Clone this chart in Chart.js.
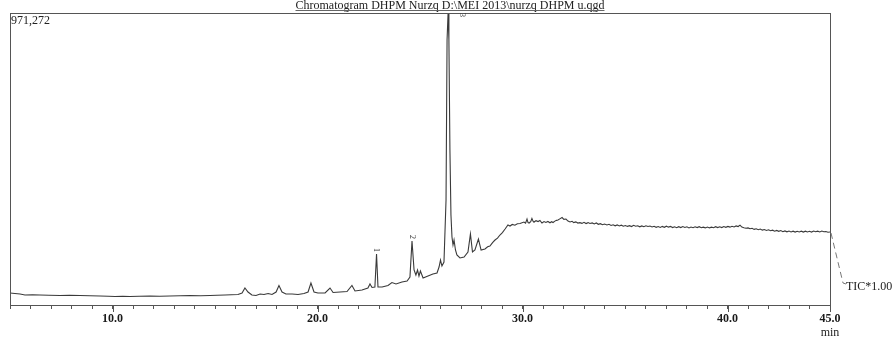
<html>
<head>
<meta charset="utf-8">
<title>Chromatogram DHPM Nurzq</title>
<style>
  body { margin: 0; background: #fff; }
  canvas { display: block; }
</style>
</head>
<body>
<canvas id="tic" width="893" height="341"></canvas>
<script src="https://cdn.jsdelivr.net/npm/chart.js@4.4.0/dist/chart.umd.min.js"></script>
<script>
// TIC trace: retention time (min) and intensity (counts)
var retentionTime = [
  5.00, 5.24, 5.49, 5.73, 6.10, 6.46, 6.90, 7.44, 7.90, 8.41, 8.90, 9.39, 9.80,
  10.12, 10.50, 10.85, 11.30, 11.83, 12.30, 12.80, 13.30, 13.78, 14.30, 14.76,
  15.10, 15.49, 15.80, 16.12, 16.32, 16.46, 16.61, 16.80, 17.00, 17.20, 17.39,
  17.59, 17.78, 17.98, 18.12, 18.27, 18.46, 18.76, 19.05, 19.34, 19.54, 19.68,
  19.83, 20.02, 20.37, 20.61, 20.76, 21.10, 21.44, 21.68, 21.83, 22.17, 22.46,
  22.56, 22.66, 22.80, 22.88, 22.95, 23.15, 23.44, 23.63, 23.83, 24.12, 24.37,
  24.51, 24.61, 24.71, 24.80, 24.88, 24.95, 25.02, 25.15, 25.39, 25.63, 25.83,
  25.93, 26.00, 26.07, 26.17, 26.27, 26.32, 26.37, 26.41, 26.46, 26.51, 26.56,
  26.61, 26.66, 26.73, 26.80, 26.95, 27.15, 27.34, 27.46, 27.56, 27.68, 27.85,
  27.98, 28.17, 28.30, 28.41, 28.55, 28.66, 28.78, 28.90, 29.02, 29.15, 29.29, 29.39, 29.50, 29.63, 29.75, 29.88,
  30.07, 30.15, 30.22, 30.27, 30.32, 30.40, 30.46, 30.52, 30.56, 30.66, 30.76, 30.85,
  30.95, 31.05, 31.14, 31.24, 31.34, 31.42, 31.49, 31.58, 31.66, 31.73, 31.82, 31.93,
  32.02, 32.12, 32.22, 32.32, 32.42, 32.50, 32.60, 32.70, 32.80, 32.90, 33.00, 33.10,
  33.20, 33.29, 33.40, 33.50, 33.60, 33.70, 33.80, 33.90, 34.00, 34.12, 34.22, 34.32,
  34.42, 34.52, 34.62, 34.72, 34.82, 34.92, 35.02, 35.12, 35.22, 35.32, 35.42, 35.52,
  35.62, 35.72, 35.82, 35.92, 36.02, 36.12, 36.22, 36.32, 36.42, 36.52, 36.62, 36.72,
  36.82, 36.92, 37.02, 37.12, 37.22, 37.32, 37.42, 37.52, 37.62, 37.72, 37.82, 37.92,
  38.02, 38.12, 38.22, 38.32, 38.42, 38.52, 38.62, 38.72, 38.82, 38.92, 39.02, 39.12,
  39.22, 39.32, 39.42, 39.52, 39.62, 39.72, 39.82, 39.92, 40.02, 40.12, 40.22, 40.32,
  40.42, 40.52, 40.61, 40.70, 40.80, 40.90, 41.00, 41.10, 41.20, 41.30, 41.40, 41.50,
  41.60, 41.70, 41.80, 41.90, 42.00, 42.10, 42.20, 42.30, 42.40, 42.50, 42.60, 42.70,
  42.80, 42.90, 43.00, 43.10, 43.20, 43.30, 43.40, 43.50, 43.60, 43.70, 43.80, 43.90,
  44.00, 44.10, 44.20, 44.30, 44.40, 44.50, 44.60, 44.70, 44.80, 44.90, 45.00
];
var intensity = [
  39900, 38250, 36590, 33260, 34100, 33260, 32400, 31600, 32200, 31600, 30800, 29930, 29100,
  28270, 28900, 28270, 29000, 29930, 29300, 29930, 30600, 31600, 30900, 31600,
  32500, 33260, 33900, 34920, 39900, 56540, 43240, 33260, 31600, 36590, 34920,
  38250, 34920, 43240, 64860, 43240, 36590, 36590, 34920, 38250, 43240, 73170,
  43240, 39900, 39900, 56540, 41580, 43240, 44900, 64860, 46560, 49890, 56540,
  69850, 58200, 59870, 169630, 59870, 59870, 64860, 74840, 69850, 76500, 79820,
  93130, 212860, 116410, 99780, 116410, 96450, 113080, 89800, 96450, 103110, 106430,
  126390, 149670, 129710, 143020, 349230, 881390, 971272, 881390, 515530, 299340, 226170,
  199560, 216190, 182930, 166300, 156320, 159650, 176280, 236150, 176280, 182930, 219520,
  182930, 186260, 193500, 196230, 208000, 216190, 222500, 232820, 241000, 252780, 266080, 262750, 268000, 265500, 270500, 271070,
  276060, 272000, 286040, 274000, 272730, 277000, 287700, 278000, 276060, 280500, 277500, 281000,
  272730, 277500, 274500, 278000, 273500, 277000, 274400, 279000, 281500, 282710, 286500, 291030,
  285000, 286040, 279000, 276060, 278500, 274000, 276500, 272500, 274000, 271500, 275000, 271000,
  274000, 271070, 272900, 269500, 273000, 268500, 270500, 267000, 269500, 266000, 268500, 264500,
  267000, 263500, 266500, 263000, 265500, 262000, 264500, 261500, 264000, 261000, 265000, 262000,
  263500, 260000, 263000, 260500, 263500, 261000, 262750, 259500, 262000, 258500, 261000, 258000,
  261500, 258500, 262000, 259000, 261500, 257500, 260000, 257000, 260500, 257500, 261000, 258000,
  260000, 256500, 259500, 257000, 260000, 257500, 260500, 257000, 259000, 256500, 259500, 256500,
  259000, 257000, 260500, 257500, 260000, 257500, 261000, 258500, 261500, 259000, 262000, 259500,
  263000, 261000, 265500, 259000, 257000, 255500, 256500, 253500, 255000, 251500, 253500, 250500,
  252500, 249000, 251000, 248000, 250000, 247000, 249000, 245500, 248000, 245000, 247500, 244000,
  246500, 243500, 246000, 243000, 245500, 242500, 245000, 243000, 245500, 242500, 245500, 243000,
  245000, 242500, 246000, 243500, 245500, 243000, 246000, 243500, 244500, 242000, 242800
];

// numbered peaks
var peakTimes = [22.88, 24.61, 26.37];
var peakTags = ['1', '2', '3'];

var maxIntensity = 971272;
var timeStart = 5;
var timeEnd = 45;
var labelledTimes = [10, 20, 30, 40, 45];
var timeUnit = 'min';

var titleText = 'Chromatogram DHPM Nurzq D:\\MEI 2013\\nurzq DHPM u.qgd';
var traceName = 'TIC*1.00';

var serif = '"Liberation Serif", "DejaVu Serif", serif';

var points = retentionTime.map(function (t, i) {
  return { x: t, y: intensity[i] };
});

// frame, header texts, peak numbers and the trace name
var decorations = {
  id: 'decorations',
  afterDraw: function (chart) {
    var ctx = chart.ctx;
    var area = chart.chartArea;
    var xs = chart.scales.x;
    var ys = chart.scales.y;
    ctx.save();

    // frame round the plot
    ctx.strokeStyle = '#555';
    ctx.lineWidth = 1;
    ctx.strokeRect(Math.round(area.left) + 0.5, Math.round(area.top) + 0.5,
      Math.round(area.right - area.left), Math.round(area.bottom - area.top));

    // longer marks under the labelled times
    ctx.beginPath();
    labelledTimes.forEach(function (t) {
      var px = Math.round(xs.getPixelForValue(t)) + 0.5;
      ctx.moveTo(px, area.bottom);
      ctx.lineTo(px, area.bottom + 7);
    });
    ctx.stroke();

    // unit under the last time label
    ctx.fillStyle = '#222';
    ctx.font = '12px ' + serif;
    ctx.textAlign = 'center';
    ctx.textBaseline = 'middle';
    ctx.fillText(timeUnit, xs.getPixelForValue(timeEnd), area.bottom + 28);

    // title
    ctx.textBaseline = 'alphabetic';
    var cx = 450;
    ctx.fillText(titleText, cx, 9);
    var w = ctx.measureText(titleText).width;
    ctx.beginPath();
    ctx.moveTo(cx - w / 2, 10.5);
    ctx.lineTo(cx + w / 2, 10.5);
    ctx.strokeStyle = '#666';
    ctx.stroke();

    // full-scale intensity
    ctx.textAlign = 'left';
    ctx.fillText(maxIntensity.toLocaleString('en-US'), area.left + 1, area.top + 11);

    // peak numbers, written sideways
    ctx.font = '8px ' + serif;
    peakTimes.forEach(function (t, i) {
      var k = retentionTime.indexOf(t);
      var x = xs.getPixelForValue(t);
      var y = ys.getPixelForValue(intensity[k]) - 4;
      if (y < area.top + 4) {
        y = area.top + 2;
        x += 14;
      }
      ctx.save();
      ctx.translate(x, y);
      ctx.rotate(Math.PI / 2);
      ctx.textAlign = 'center';
      ctx.textBaseline = 'middle';
      ctx.fillStyle = '#333';
      ctx.fillText(peakTags[i], 0, 0);
      ctx.restore();
    });

    // dashed lead from the end of the trace to its name
    var last = intensity.length - 1;
    var ex = xs.getPixelForValue(retentionTime[last]);
    var ey = ys.getPixelForValue(intensity[last]);
    ctx.beginPath();
    ctx.setLineDash([6, 4]);
    ctx.strokeStyle = '#777';
    ctx.moveTo(ex + 1, ey + 1);
    ctx.lineTo(ex + 13, ey + 51);
    ctx.lineTo(ex + 16, ey + 52);
    ctx.stroke();
    ctx.setLineDash([]);

    ctx.font = '12px ' + serif;
    ctx.textAlign = 'left';
    ctx.textBaseline = 'middle';
    ctx.fillStyle = '#222';
    ctx.fillText(traceName, ex + 16, ey + 55);

    ctx.restore();
  }
};

var chart = new Chart(document.getElementById('tic').getContext('2d'), {
  type: 'line',
  data: {
    datasets: [{
      label: traceName,
      data: points,
      borderColor: '#3a3a3a',
      borderWidth: 1.1,
      pointRadius: 0,
      tension: 0,
      fill: false
    }]
  },
  options: {
    responsive: false,
    animation: false,
    events: [],
    layout: { padding: { left: 10, right: 63, top: 13, bottom: 0 } },
    plugins: {
      legend: { display: false },
      tooltip: { enabled: false },
      title: { display: false }
    },
    scales: {
      x: {
        type: 'linear',
        min: timeStart,
        max: timeEnd,
        afterFit: function (scale) { scale.height = 36; },
        grid: {
          drawOnChartArea: false,
          drawTicks: true,
          tickLength: 4,
          tickColor: '#555'
        },
        border: { display: true, color: '#555', width: 1 },
        ticks: {
          stepSize: 1,
          autoSkip: false,
          maxRotation: 0,
          padding: 3,
          color: '#1a1a1a',
          font: { family: serif, size: 12, weight: 'bold', lineHeight: 14 / 12 },
          callback: function (value) {
            if (labelledTimes.indexOf(value) >= 0) return value.toFixed(1);
            return '';
          }
        }
      },
      y: {
        display: false,
        min: 0,
        max: maxIntensity
      }
    }
  },
  plugins: [decorations]
});
</script>
</body>
</html>
